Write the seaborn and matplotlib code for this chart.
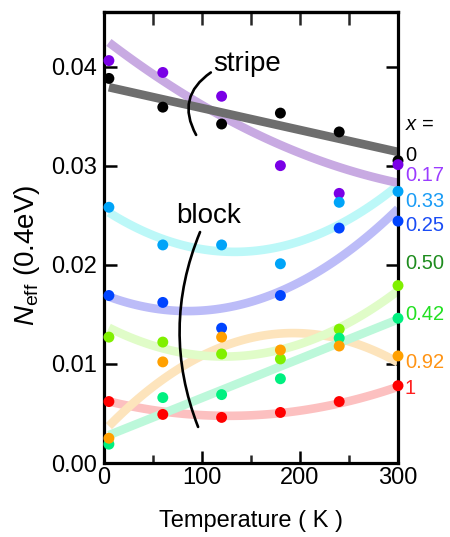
import numpy as np
import pandas as pd
import matplotlib
matplotlib.use("Agg")
import matplotlib.pyplot as plt
import seaborn as sns

# ---------------- data ----------------
temperature = [5, 60, 120, 180, 240, 300]
x_values = ["0", "0.17", "0.33", "0.25", "0.50", "0.42", "0.92", "1"]

# measured points N_eff(0.4 eV)
N_x000 = [0.0388, 0.0359, 0.0342, 0.0353, 0.0334, 0.0305]
N_x017 = [0.0406, 0.0394, 0.0370, 0.0300, 0.0272, 0.0301]
N_x033 = [0.0258, 0.0220, 0.0220, 0.0201, 0.0263, 0.0274]
N_x025 = [0.0169, 0.0162, 0.0136, 0.0169, 0.0237, 0.0244]
N_x050 = [0.0127, 0.0122, 0.0110, 0.0105, 0.0135, 0.0179]
N_x042 = [0.0019, 0.0066, 0.0069, 0.0085, 0.0126, 0.0146]
N_x092 = [0.0025, 0.0102, 0.0127, 0.0114, 0.0118, 0.0108]
N_x100 = [0.0062, 0.0049, 0.0046, 0.0051, 0.0062, 0.0078]

# guide-to-the-eye curves, read at the same temperatures
F_x000 = [0.0379, 0.0367, 0.0354, 0.0340, 0.0327, 0.0314]
F_x017 = [0.0419, 0.0395, 0.0350, 0.0316, 0.0297, 0.0285]
F_x033 = [0.0253, 0.0226, 0.0213, 0.0217, 0.0243, 0.0279]
F_x025 = [0.0167, 0.0157, 0.0154, 0.0173, 0.0208, 0.0256]
F_x050 = [0.0133, 0.0121, 0.0109, 0.0111, 0.0134, 0.0176]
F_x042 = [0.0028, 0.0050, 0.0074, 0.0097, 0.0121, 0.0145]
F_x092 = [0.0038, 0.0082, 0.0119, 0.0131, 0.0124, 0.0102]
F_x100 = [0.0062, 0.0052, 0.0048, 0.0050, 0.0060, 0.0077]
fit_order = [1, 2, 2, 2, 2, 2, 3, 2]

# right-hand labels (N positions of the labels)
label_N = [0.03415, 0.0310, 0.0290, 0.0264, 0.0240, 0.0201, 0.0150, 0.0101, 0.0075]

points = [N_x000, N_x017, N_x033, N_x025, N_x050, N_x042, N_x092, N_x100]
fits = [F_x000, F_x017, F_x033, F_x025, F_x050, F_x042, F_x092, F_x100]

dot_colors = ["#000000", "#7a00e6", "#00a4f8", "#0044ff", "#80f000", "#00f080", "#ffa000", "#ff0000"]
line_colors = ["#6e6e6e", "#c8aae2", "#bcf8f8", "#bcbcf8", "#e0fcc8", "#bcf8da", "#fde4bc", "#fcc0c0"]
text_colors = ["#000000", "#9b3cff", "#1a9cf5", "#1a4cf5", "#1e8c1e", "#22e022", "#ff9414", "#ff2020"]

# ---------------- style ----------------
sns.set_theme(style="ticks")
plt.rcParams["font.family"] = ["Liberation Sans", "DejaVu Sans"]
plt.rcParams["mathtext.fontset"] = "custom"
plt.rcParams["mathtext.rm"] = "Liberation Sans"
plt.rcParams["mathtext.it"] = "Liberation Sans:italic"

fig = plt.figure(figsize=(4.5, 5.37), dpi=100)
ax = fig.add_axes([104 / 450, 1 - 463 / 537, 294 / 450, 451 / 537])

df_pts = pd.DataFrame({
    "T": np.tile(temperature, len(x_values)),
    "N": np.concatenate(points),
    "x": np.repeat(x_values, len(temperature)),
})

# curves (polynomial smoothing of the read guide values)
draw_order = [7, 6, 5, 4, 3, 2, 1, 0]
for i in draw_order:
    sns.regplot(x=temperature, y=fits[i], order=fit_order[i], ci=None, scatter=False,
                truncate=True, ax=ax,
                line_kws=dict(color=line_colors[i], lw=6.2, solid_capstyle="butt", zorder=2))

sns.scatterplot(data=df_pts, x="T", y="N", hue="x",
                palette=dict(zip(x_values, dot_colors)), hue_order=x_values,
                s=62, linewidth=0, legend=False, ax=ax, zorder=5, clip_on=False)

# ---------------- axes ----------------
ax.set_xlim(0, 300)
ax.set_ylim(0, 0.0455)
ax.set_xticks([0, 100, 200, 300])
ax.set_xticks([50, 150, 250], minor=True)
ax.set_yticks([0, 0.01, 0.02, 0.03, 0.04])
ax.set_yticklabels([f"{v:.2f}" for v in [0, 0.01, 0.02, 0.03, 0.04]])
ax.tick_params(axis="both", which="major", direction="in", length=9, width=1.8,
               labelsize=17, colors="black")
ax.tick_params(axis="x", which="major", pad=3)
ax.tick_params(axis="y", which="major", pad=5, right=True)
ax.tick_params(axis="x", which="minor", direction="in", length=5.8, width=1.8, top=False)
ax.tick_params(axis="x", top=False)
for sp in ax.spines.values():
    sp.set_visible(True)
    sp.set_linewidth(2.3)
    sp.set_color("black")

sec = ax.secondary_xaxis("top")
sec.set_xticks([50, 100, 150, 200, 250])
sec.tick_params(direction="in", length=9, width=1.8, labeltop=False)
sec.spines["top"].set_linewidth(2.3)

ax.set_xlabel("Temperature ( K )", fontsize=17, color="black")
ax.set_ylabel(r"$N_{\mathrm{eff}}$ (0.4eV)", fontsize=20, color="black")
ax.xaxis.set_label_coords(0.5, -0.105)
ax.yaxis.set_label_coords(-0.212, 0.46)

# right-hand x labels
ax.text(307, label_N[0], r"$x$ =", fontsize=14.5, color="black", ha="left", va="center",
        clip_on=False)
for i, lab in enumerate(x_values):
    ax.text(307, label_N[i + 1], lab, fontsize=14.5, color=text_colors[i],
            ha="left", va="center", clip_on=False)

# annotations
ax.text(145.5, 0.0395, "stripe", fontsize=20, ha="center", va="baseline", color="black")
ax.text(106.5, 0.0242, "block", fontsize=20, ha="center", va="baseline", color="black")
ax.annotate("", xy=(94, 0.0331), xytext=(109, 0.0394),
            arrowprops=dict(arrowstyle="-", lw=1.9, color="black", shrinkA=0, shrinkB=0,
                            connectionstyle="arc3,rad=0.45"))
ax.annotate("", xy=(96, 0.00364), xytext=(98, 0.0233),
            arrowprops=dict(arrowstyle="-", lw=1.9, color="black", shrinkA=0, shrinkB=0,
                            connectionstyle="arc3,rad=0.2"))

fig.savefig("out.png", dpi=100)
